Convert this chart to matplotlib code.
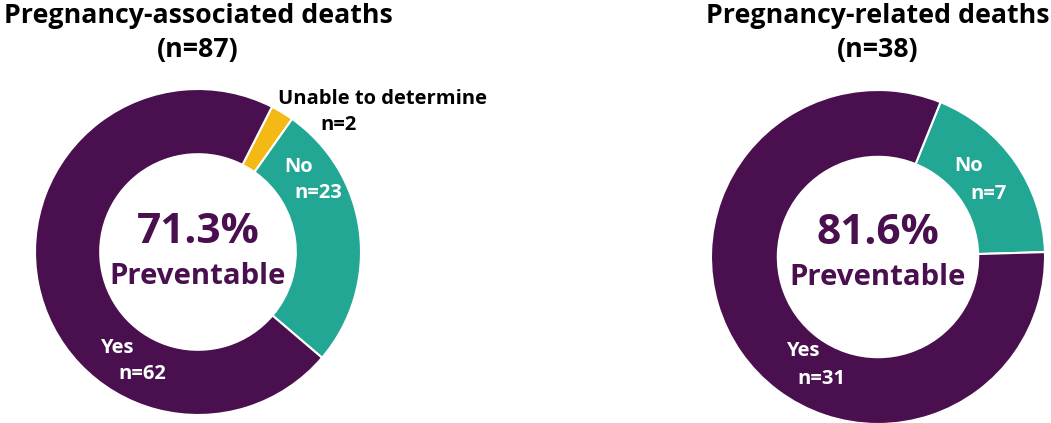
import matplotlib
matplotlib.use('Agg')
import matplotlib.pyplot as plt

plt.rcParams['font.family'] = ['Open Sans', 'DejaVu Sans']
plt.rcParams['font.weight'] = 'bold'

# data
assoc_labels = ['Unable to determine', 'No', 'Yes']
assoc_counts = [2, 23, 62]
related_labels = ['No', 'Yes']
related_counts = [7, 31]
titles = ['Pregnancy-associated deaths\n(n=87)', 'Pregnancy-related deaths\n(n=38)']
center_pct = ['71.3%', '81.6%']

purple = '#4a0f4e'
teal = '#22a795'
yellow = '#f5b915'

W, H = 1051, 423
fig = plt.figure(figsize=(W / 100, H / 100), dpi=100)


def donut(cx, cy, r, counts, colors, start):
    ax = fig.add_axes([(cx - r) / W, (H - cy - r) / H, 2 * r / W, 2 * r / H])
    ax.pie(counts, colors=colors, startangle=start, counterclock=False,
           radius=1, wedgeprops=dict(width=0.4, edgecolor='white', linewidth=1.5))
    ax.set_xlim(-1, 1)
    ax.set_ylim(-1, 1)
    ax.set_aspect('equal')
    ax.axis('off')
    return ax


ax1 = donut(198, 252, 163, assoc_counts, [yellow, teal, purple], 63)
ax2 = donut(878, 257, 167, related_counts, [teal, purple], 68)

fig.text(198 / W, 1 - 33 / H, titles[0], ha='center', va='center',
         fontsize=19.3, linespacing=1.4, color='black')
fig.text(878 / W, 1 - 33 / H, titles[1], ha='center', va='center',
         fontsize=19.3, linespacing=1.4, color='black')

lbl = dict(ha='center', va='center', fontsize=14.5, color='white')

# left donut texts
ax1.text(0, 0.12, center_pct[0], ha='center', va='center', fontsize=30.5, color=purple)
ax1.text(0, -0.15, 'Preventable', ha='center', va='center', fontsize=21.2, color=purple)
ax1.text(0.62, 0.52, assoc_labels[1], **lbl)
ax1.text(0.74, 0.36, 'n=%d' % assoc_counts[1], **lbl)
ax1.text(-0.50, -0.59, assoc_labels[2], **lbl)
ax1.text(-0.34, -0.75, 'n=%d' % assoc_counts[2], **lbl)
ax1.text(1.13, 0.94, assoc_labels[0], ha='center', va='center', fontsize=14.5,
         color='black', clip_on=False)
ax1.text(0.86, 0.78, 'n=%d' % assoc_counts[0], ha='center', va='center',
         fontsize=14.5, color='black', clip_on=False)

# right donut texts
ax2.text(0, 0.14, center_pct[1], ha='center', va='center', fontsize=30.5, color=purple)
ax2.text(0, -0.12, 'Preventable', ha='center', va='center', fontsize=21.2, color=purple)
ax2.text(0.545, 0.545, related_labels[0], **lbl)
ax2.text(0.66, 0.38, 'n=%d' % related_counts[0], **lbl)
ax2.text(-0.45, -0.56, related_labels[1], **lbl)
ax2.text(-0.34, -0.73, 'n=%d' % related_counts[1], **lbl)

fig.savefig('out.png', dpi=100)
